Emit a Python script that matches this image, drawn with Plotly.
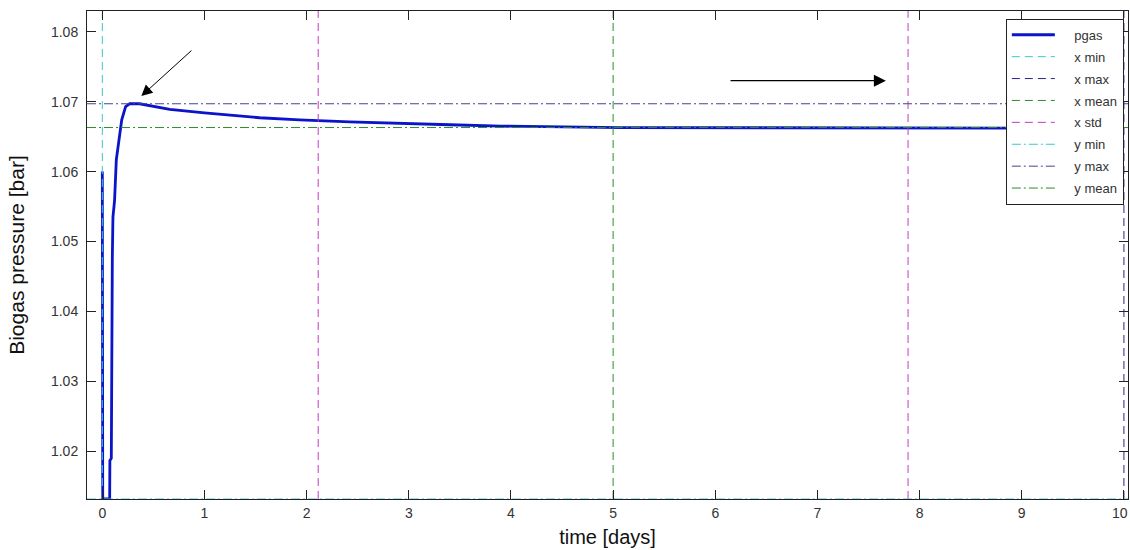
import plotly.graph_objects as go

# ---- data ----
time_days = [0.0, 0.004, 0.072, 0.074, 0.088, 0.090, 0.098, 0.104, 0.120, 0.137,
             0.170, 0.190, 0.228, 0.267, 0.365, 0.660, 1.00, 1.54, 1.93, 2.42,
             3.40, 3.90, 5.07, 7.40, 7.45, 10.0]
pgas_bar = [1.0600, 1.0132, 1.0132, 1.0187, 1.0190, 1.0397, 1.0478, 1.0535, 1.0559, 1.0617,
            1.0650, 1.0674, 1.0693, 1.0697, 1.0697, 1.0689, 1.0684, 1.0677, 1.0674, 1.0671,
            1.0667, 1.0665, 1.0663, 1.0663, 1.0662, 1.0662]

x_min, x_max, x_mean, x_std = 0.0, 10.0, 5.0, 2.887
y_min, y_max, y_mean = 1.0132, 1.0697, 1.0663

x_ticks = [0, 1, 2, 3, 4, 5, 6, 7, 8, 9, 10]
x_tick_text = ["0", "1", "2", "3", "4", "5", "6", "7", "8", "9", "10"]
y_ticks = [1.02, 1.03, 1.04, 1.05, 1.06, 1.07, 1.08]
y_tick_text = ["1.02", "1.03", "1.04", "1.05", "1.06", "1.07", "1.08"]

x_range = [-0.15, 10.04]
y_range = [y_min, 1.08296]

# ---- styles ----
C_PGAS = "#0b14c8"
C_CYAN = "#3cc6d2"
C_NAVY = "#24248a"
C_GREEN = "#2e8b2e"
C_MAG = "#c03cbf"
C_SLATE = "#44448c"
DASH = "8px,5px"
DASHDOT = "9px,3px,2px,3px"
PAD = "\u00a0" * 4
TICKFONT = dict(family="Liberation Sans, Arial", size=14, color="#333")

fig = go.Figure()

fig.add_trace(go.Scatter(x=time_days, y=pgas_bar, mode="lines", name=PAD + "pgas",
                         line=dict(color=C_PGAS, width=2.8), legendgroup="g1"))

def vline(xs, name, color, dash, grp):
    xx, yy = [], []
    for v in xs:
        xx += [v, v, None]
        yy += [y_range[0], y_range[1], None]
    fig.add_trace(go.Scatter(x=xx, y=yy, mode="lines", name=PAD + name,
                             line=dict(color=color, width=1, dash=dash), legendgroup=grp))

def hline(v, name, color, dash, grp):
    fig.add_trace(go.Scatter(x=[x_range[0], x_range[1]], y=[v, v], mode="lines", name=PAD + name,
                             line=dict(color=color, width=1, dash=dash), legendgroup=grp))

vline([x_min], "x min", C_CYAN, DASH, "g2")
vline([x_max], "x max", C_NAVY, DASH, "g3")
vline([x_mean], "x mean", C_GREEN, DASH, "g4")
vline([x_mean - x_std, x_mean + x_std], "x std", C_MAG, DASH, "g5")
hline(y_min, "y min", C_CYAN, DASHDOT, "g6")
hline(y_max, "y max", C_SLATE, DASHDOT, "g7")
hline(y_mean, "y mean", C_GREEN, DASHDOT, "g8")

# arrows
fig.add_annotation(x=0.382, y=1.0708, ax=0.887, ay=1.0775, xref="x", yref="y",
                   axref="x", ayref="y", showarrow=True, arrowhead=2, arrowsize=2.2,
                   arrowwidth=1, arrowcolor="black", text="")
fig.add_annotation(x=7.67, y=1.0730, ax=6.135, ay=1.0730, xref="x", yref="y",
                   axref="x", ayref="y", showarrow=True, arrowhead=2, arrowsize=2.0,
                   arrowwidth=1.2, arrowcolor="black", text="")

# last x tick label sits right at the page edge; nudge it so it stays visible
fig.add_annotation(x=x_ticks[-1], y=0, xref="x", yref="paper", text=x_tick_text[-1],
                   showarrow=False, yanchor="middle", xanchor="center", yshift=-14,
                   xshift=-4, font=TICKFONT)

axis_common = dict(showline=True, linecolor="#222", linewidth=1, mirror="allticks",
                   ticks="inside", ticklen=9, tickcolor="#222", showgrid=False,
                   zeroline=False, tickfont=TICKFONT)

fig.update_xaxes(range=x_range, tickvals=x_ticks, ticktext=x_tick_text,
                 title=dict(text="time [days]", font=dict(family="Liberation Sans, Arial", size=20, color="#111"),
                            standoff=10),
                 ticklabelstandoff=1, **axis_common)
fig.update_yaxes(range=y_range, tickvals=y_ticks, ticktext=y_tick_text,
                 title=dict(text="Biogas pressure [bar]", font=dict(family="Liberation Sans, Arial", size=21, color="#111"),
                            standoff=20),
                 ticklabelstandoff=5, **axis_common)

fig.update_layout(
    width=1130, height=550,
    margin=dict(l=87, r=2, t=11, b=51),
    paper_bgcolor="white", plot_bgcolor="white",
    showlegend=True,
    legend=dict(x=0.996, y=0.984, xanchor="right", yanchor="top",
                bgcolor="white", bordercolor="#222", borderwidth=1,
                font=dict(family="Liberation Sans, Arial", size=13, color="#333"),
                itemwidth=43, tracegroupgap=2),
)

fig.write_html("out.html")
